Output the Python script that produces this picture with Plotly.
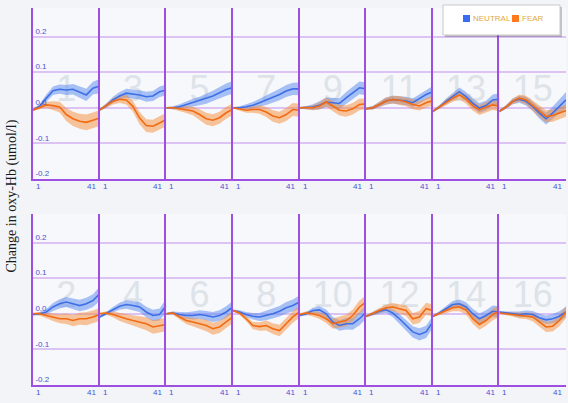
import plotly.graph_objects as go

# ---------------- data ----------------
X = [1, 5, 9, 13, 17, 21, 25, 29, 33, 37, 41]
X_TICKS = [1, 41]
Y_TICKS = [-0.2, -0.1, 0.0, 0.1, 0.2]
Y_TICK_TEXT = ["-0.2", "-0.1", "0.0", "0.1", "0.2"]
TOP_CHANNELS = [1, 3, 5, 7, 9, 11, 13, 15]
BOTTOM_CHANNELS = [2, 4, 6, 8, 10, 12, 14, 16]
SERIES_NAMES = ["NEUTRAL", "FEAR"]
Y_TITLE = "Change in oxy-Hb (umol/l)"

NEUTRAL = {
    1:  [-0.006, 0.004, 0.027, 0.048, 0.052, 0.050, 0.052, 0.043, 0.036, 0.055, 0.061],
    3:  [-0.006, 0.006, 0.022, 0.033, 0.041, 0.039, 0.036, 0.031, 0.033, 0.045, 0.050],
    5:  [0.000, 0.000, 0.003, 0.009, 0.014, 0.019, 0.025, 0.033, 0.042, 0.051, 0.057],
    7:  [0.000, 0.000, 0.003, 0.007, 0.014, 0.021, 0.028, 0.037, 0.047, 0.053, 0.053],
    9:  [0.000, 0.000, 0.002, 0.007, 0.016, 0.014, 0.012, 0.028, 0.042, 0.056, 0.053],
    11: [-0.003, 0.000, 0.009, 0.019, 0.023, 0.021, 0.019, 0.014, 0.025, 0.037, 0.045],
    13: [-0.010, 0.002, 0.018, 0.031, 0.045, 0.031, 0.013, -0.001, 0.006, 0.022, 0.024],
    15: [-0.010, 0.002, 0.018, 0.024, 0.018, 0.004, -0.015, -0.031, -0.015, 0.004, 0.022],
    2:  [-0.002, 0.000, 0.005, 0.019, 0.028, 0.033, 0.028, 0.023, 0.028, 0.037, 0.056],
    4:  [-0.009, 0.000, 0.011, 0.021, 0.026, 0.023, 0.019, 0.005, -0.005, -0.002, 0.023],
    6:  [0.000, 0.002, -0.002, -0.005, -0.005, -0.002, -0.005, -0.009, -0.005, 0.005, 0.019],
    8:  [0.009, 0.005, -0.002, -0.007, -0.009, -0.005, 0.000, 0.007, 0.017, 0.023, 0.033],
    10: [-0.005, 0.000, 0.009, 0.011, 0.000, -0.023, -0.033, -0.028, -0.028, -0.014, 0.005],
    12: [-0.007, 0.000, 0.007, 0.011, 0.002, -0.014, -0.033, -0.051, -0.058, -0.051, -0.023],
    14: [-0.007, 0.002, 0.014, 0.026, 0.028, 0.019, 0.000, -0.014, -0.005, 0.007, 0.005],
    16: [0.005, 0.002, 0.000, -0.002, 0.000, -0.002, -0.011, -0.017, -0.014, -0.007, 0.005],
}
FEAR = {
    1:  [-0.006, 0.002, 0.008, 0.006, 0.002, -0.019, -0.031, -0.038, -0.041, -0.035, -0.029],
    3:  [-0.006, 0.006, 0.018, 0.024, 0.022, 0.004, -0.029, -0.050, -0.052, -0.043, -0.033],
    5:  [0.000, 0.000, -0.003, -0.005, -0.009, -0.019, -0.031, -0.035, -0.028, -0.014, -0.004],
    7:  [0.000, -0.003, -0.007, -0.005, -0.005, -0.012, -0.023, -0.028, -0.019, -0.005, -0.007],
    9:  [0.000, 0.000, 0.000, 0.005, 0.016, 0.005, -0.007, -0.009, -0.003, 0.009, 0.011],
    11: [-0.003, 0.000, 0.009, 0.019, 0.023, 0.021, 0.016, 0.009, 0.005, 0.014, 0.020],
    13: [-0.010, 0.002, 0.015, 0.027, 0.036, 0.024, 0.006, -0.006, 0.002, 0.008, 0.004],
    15: [-0.010, 0.002, 0.018, 0.027, 0.022, 0.006, -0.010, -0.024, -0.022, -0.015, -0.008],
    2:  [0.000, 0.000, -0.005, -0.009, -0.014, -0.014, -0.019, -0.014, -0.014, -0.009, -0.002],
    4:  [0.000, 0.002, -0.002, -0.009, -0.014, -0.019, -0.023, -0.028, -0.037, -0.033, -0.030],
    6:  [0.000, 0.002, -0.009, -0.019, -0.023, -0.028, -0.033, -0.042, -0.037, -0.023, -0.009],
    8:  [0.009, 0.002, -0.014, -0.033, -0.036, -0.033, -0.042, -0.047, -0.028, -0.009, 0.005],
    10: [-0.002, 0.002, 0.000, -0.005, -0.014, -0.028, -0.023, -0.019, -0.005, 0.019, 0.033],
    12: [-0.007, 0.000, 0.009, 0.017, 0.019, 0.014, 0.009, -0.014, -0.009, 0.014, 0.009],
    14: [-0.007, 0.000, 0.009, 0.017, 0.019, 0.011, -0.014, -0.030, -0.019, -0.002, 0.007],
    16: [0.002, 0.000, -0.002, -0.005, -0.005, -0.009, -0.023, -0.037, -0.035, -0.019, 0.005],
}
NEUTRAL_SE = {
    1:  [0.003, 0.006, 0.010, 0.012, 0.013, 0.014, 0.015, 0.016, 0.017, 0.018, 0.020],
    3:  [0.003, 0.006, 0.009, 0.011, 0.012, 0.013, 0.013, 0.014, 0.014, 0.015, 0.015],
    5:  [0.002, 0.004, 0.007, 0.009, 0.011, 0.012, 0.014, 0.015, 0.016, 0.017, 0.018],
    7:  [0.002, 0.004, 0.007, 0.009, 0.011, 0.013, 0.014, 0.016, 0.017, 0.017, 0.018],
    9:  [0.002, 0.004, 0.008, 0.011, 0.013, 0.014, 0.015, 0.016, 0.017, 0.018, 0.018],
    11: [0.003, 0.005, 0.008, 0.010, 0.011, 0.011, 0.012, 0.012, 0.013, 0.014, 0.016],
    13: [0.003, 0.005, 0.008, 0.010, 0.012, 0.013, 0.013, 0.014, 0.014, 0.015, 0.016],
    15: [0.003, 0.005, 0.008, 0.010, 0.012, 0.013, 0.015, 0.016, 0.018, 0.020, 0.022],
    2:  [0.003, 0.005, 0.008, 0.011, 0.013, 0.014, 0.015, 0.016, 0.017, 0.018, 0.020],
    4:  [0.003, 0.005, 0.008, 0.010, 0.012, 0.013, 0.014, 0.015, 0.016, 0.017, 0.019],
    6:  [0.002, 0.004, 0.007, 0.009, 0.011, 0.012, 0.013, 0.014, 0.015, 0.016, 0.017],
    8:  [0.003, 0.005, 0.007, 0.009, 0.011, 0.013, 0.014, 0.015, 0.016, 0.017, 0.018],
    10: [0.003, 0.005, 0.008, 0.010, 0.012, 0.014, 0.015, 0.016, 0.017, 0.018, 0.019],
    12: [0.003, 0.005, 0.007, 0.009, 0.011, 0.013, 0.015, 0.016, 0.017, 0.017, 0.017],
    14: [0.003, 0.005, 0.008, 0.010, 0.012, 0.013, 0.014, 0.015, 0.015, 0.016, 0.016],
    16: [0.002, 0.004, 0.006, 0.008, 0.009, 0.010, 0.011, 0.012, 0.013, 0.014, 0.015],
}
FEAR_SE = {
    1:  [0.003, 0.006, 0.009, 0.012, 0.015, 0.018, 0.020, 0.021, 0.022, 0.022, 0.022],
    3:  [0.003, 0.006, 0.009, 0.011, 0.013, 0.015, 0.017, 0.018, 0.018, 0.019, 0.019],
    5:  [0.002, 0.004, 0.007, 0.010, 0.012, 0.015, 0.017, 0.017, 0.017, 0.017, 0.016],
    7:  [0.002, 0.004, 0.007, 0.009, 0.012, 0.014, 0.016, 0.017, 0.018, 0.018, 0.018],
    9:  [0.002, 0.004, 0.007, 0.010, 0.013, 0.014, 0.015, 0.016, 0.016, 0.016, 0.016],
    11: [0.003, 0.005, 0.008, 0.010, 0.011, 0.012, 0.012, 0.013, 0.013, 0.013, 0.014],
    13: [0.003, 0.005, 0.008, 0.010, 0.012, 0.013, 0.014, 0.014, 0.014, 0.014, 0.014],
    15: [0.003, 0.005, 0.008, 0.010, 0.012, 0.014, 0.016, 0.017, 0.017, 0.017, 0.017],
    2:  [0.003, 0.005, 0.008, 0.011, 0.013, 0.015, 0.016, 0.017, 0.018, 0.018, 0.018],
    4:  [0.003, 0.005, 0.008, 0.011, 0.013, 0.015, 0.016, 0.018, 0.019, 0.019, 0.019],
    6:  [0.002, 0.004, 0.007, 0.010, 0.012, 0.014, 0.016, 0.017, 0.017, 0.017, 0.017],
    8:  [0.003, 0.005, 0.007, 0.010, 0.012, 0.014, 0.015, 0.016, 0.016, 0.016, 0.016],
    10: [0.003, 0.005, 0.008, 0.010, 0.012, 0.014, 0.015, 0.016, 0.017, 0.018, 0.019],
    12: [0.003, 0.005, 0.007, 0.009, 0.011, 0.013, 0.015, 0.016, 0.017, 0.017, 0.017],
    14: [0.003, 0.005, 0.008, 0.010, 0.012, 0.013, 0.014, 0.015, 0.015, 0.016, 0.016],
    16: [0.002, 0.004, 0.006, 0.008, 0.010, 0.012, 0.013, 0.014, 0.015, 0.016, 0.017],
}

# ---------------- styling ----------------
W, H = 568, 403
ML, MR, MT, MB = 33, 2, 8, 18
PW, PH = W - ML - MR, H - MT - MB
BLUE_LINE = "#3f6fe6"
BLUE_FILL = "rgba(85,135,240,0.50)"
ORANGE_LINE = "#f26b12"
ORANGE_FILL = "rgba(245,140,55,0.50)"
PURPLE = "#9d4fe0"
GRID = "#dcc3f3"
TICK_BLUE = "#4a52d6"
LEGEND_TEXT = "#e2aa3c"
NUM_COLOR = "#dde3e9"


def px_x(p):
    return (p - ML) / PW


def px_y(p):
    return (H - MB - p) / PH


top_dom = [px_y(179), 1.0]
bot_dom = [0.0, px_y(214)]

fig = go.Figure()
annotations = []

panels = [(ch, 0, c) for c, ch in enumerate(TOP_CHANNELS)] + \
         [(ch, 1, c) for c, ch in enumerate(BOTTOM_CHANNELS)]

for idx, (ch, row, col) in enumerate(panels, start=1):
    xa = "x" if idx == 1 else f"x{idx}"
    ya = "y" if idx == 1 else f"y{idx}"
    # channel number behind the curves
    fig.add_trace(go.Scatter(
        x=[21], y=[0.045], mode="text", text=[str(ch)],
        textfont=dict(size=36, color=NUM_COLOR, family="Liberation Sans, Arial"),
        xaxis=xa, yaxis=ya, showlegend=False, hoverinfo="skip"))
    for vals, se, fc in ((NEUTRAL[ch], NEUTRAL_SE[ch], BLUE_FILL),
                         (FEAR[ch], FEAR_SE[ch], ORANGE_FILL)):
        upper = [v + s for v, s in zip(vals, se)]
        lower = [v - s for v, s in zip(vals, se)]
        fig.add_trace(go.Scatter(
            x=X + X[::-1], y=upper + lower[::-1], fill="toself",
            fillcolor=fc, line=dict(width=0), mode="lines",
            xaxis=xa, yaxis=ya, showlegend=False, hoverinfo="skip"))
    for vals, lc in ((NEUTRAL[ch], BLUE_LINE), (FEAR[ch], ORANGE_LINE)):
        fig.add_trace(go.Scatter(
            x=X, y=vals, mode="lines", line=dict(color=lc, width=1.6),
            xaxis=xa, yaxis=ya, showlegend=False))

    xdom = [col / 8, (col + 1) / 8]
    ydom = top_dom if row == 0 else bot_dom
    fig.layout[("xaxis" if idx == 1 else f"xaxis{idx}")] = dict(
        domain=xdom, range=[1, 41], anchor=ya, showgrid=False, zeroline=False,
        showline=True, linecolor=PURPLE, linewidth=1.6, showticklabels=False,
        ticks="", fixedrange=True)
    fig.layout[("yaxis" if idx == 1 else f"yaxis{idx}")] = dict(
        domain=ydom, range=[-0.2, 0.28], anchor=xa, showgrid=True,
        gridcolor=GRID, gridwidth=1.5, zeroline=True, zerolinecolor=GRID,
        zerolinewidth=1.5, showline=True, linecolor=PURPLE, linewidth=2,
        tickvals=Y_TICKS, ticktext=Y_TICK_TEXT, showticklabels=(col == 0),
        ticklabelposition="inside top", ticks="", fixedrange=True,
        tickfont=dict(size=8, color=TICK_BLUE, family="Liberation Sans, Arial"))
    # x tick labels "1" and "41" aligned to panel edges
    for xv, anc, sh in zip(X_TICKS, ("left", "right"), (1, -2)):
        annotations.append(dict(
            x=xv, xref=xa, y=0, yref=f"{ya} domain", yanchor="top", xanchor=anc,
            yshift=-1, xshift=sh, text=str(xv), showarrow=False,
            font=dict(size=8, color=TICK_BLUE, family="Liberation Sans, Arial")))

# y-axis title
annotations.append(dict(
    x=0, xref="paper", xshift=-22, y=0.5, yref="paper", textangle=-90,
    text=Y_TITLE, showarrow=False, xanchor="center", yanchor="middle",
    font=dict(size=14, color="#1a1a1a", family="Liberation Serif, Times New Roman")))

# legend box (manual)
shapes = [
    dict(type="rect", xref="paper", yref="paper", layer="above",
         x0=px_x(445), x1=px_x(562), y0=px_y(37), y1=px_y(7),
         fillcolor="rgba(0,0,0,0.22)", line=dict(width=0)),
    dict(type="rect", xref="paper", yref="paper", layer="above",
         x0=px_x(443), x1=px_x(560), y0=px_y(35), y1=px_y(5),
         fillcolor="white", line=dict(color="#c9c9c9", width=1)),
]
for name, color, sx in ((SERIES_NAMES[0], "#3a6cf2", 463), (SERIES_NAMES[1], "#ff7a1c", 512)):
    shapes.append(dict(type="rect", xref="paper", yref="paper", layer="above",
                       x0=px_x(sx), x1=px_x(sx + 7), y0=px_y(22), y1=px_y(15),
                       fillcolor=color, line=dict(width=0)))
    annotations.append(dict(
        x=px_x(sx + 8), xref="paper", y=px_y(18.5), yref="paper",
        xanchor="left", yanchor="middle", text=name, showarrow=False,
        font=dict(size=8, color=LEGEND_TEXT, family="Liberation Sans, Arial")))

fig.update_layout(
    width=W, height=H, margin=dict(l=ML, r=MR, t=MT, b=MB),
    paper_bgcolor="#f3f4f8", plot_bgcolor="#f7f8fb",
    showlegend=False, annotations=annotations, shapes=shapes,
    font=dict(family="Liberation Sans, Arial"), hovermode=False,
)

fig.write_html("out.html", config={"displayModeBar": False},
               post_script="document.body.style.margin='0';document.body.style.overflow='hidden';")
